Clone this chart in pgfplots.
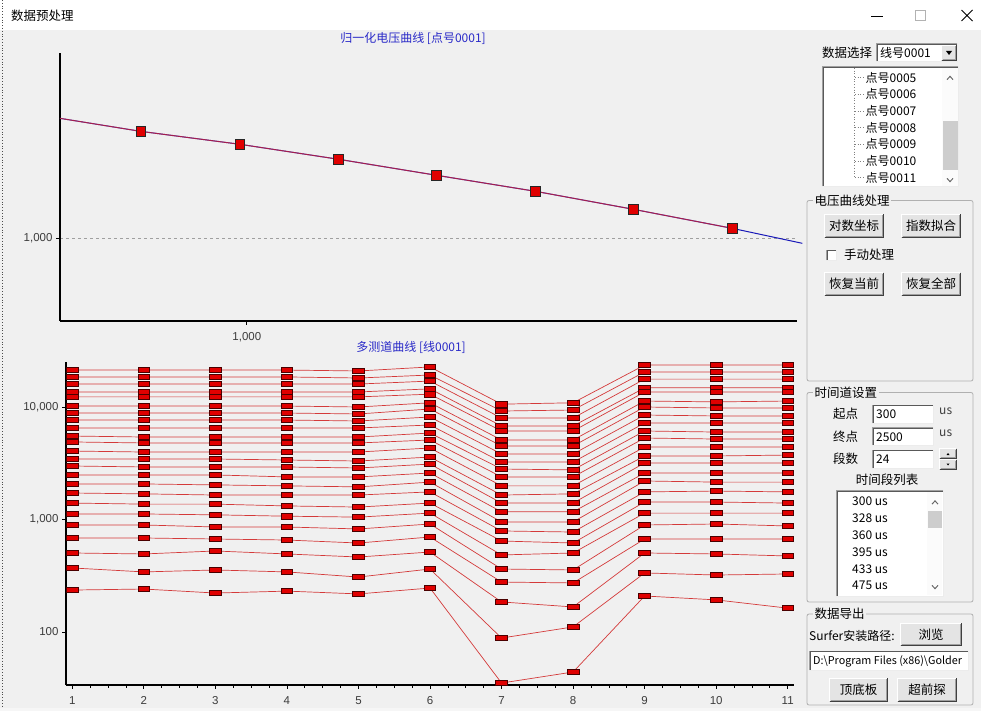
\documentclass[border=0pt]{standalone}
\usepackage{fontspec}
\setmainfont{Noto Sans CJK SC}
\newfontfamily\latinfont{Liberation Sans}
\usepackage{pgfplots}
\pgfplotsset{compat=1.18}
\definecolor{bg}{HTML}{F0F0F0}
\definecolor{titleblue}{HTML}{2A2AC8}
\definecolor{curvered}{HTML}{D43A3A}
\definecolor{markred}{HTML}{E00000}
\definecolor{markedge}{HTML}{4A0000}
\definecolor{fitblue}{HTML}{1818B8}
\definecolor{fitred}{HTML}{E02020}
\definecolor{ticktext}{HTML}{3C3C3C}
\definecolor{grpline}{HTML}{B0B0B0}
\definecolor{btnfill}{HTML}{E4E4E4}
\definecolor{btndark}{HTML}{404040}
\definecolor{btnmid}{HTML}{A0A0A0}
\definecolor{thumb}{HTML}{CDCDCD}

\newcommand\ui{\fontsize{12.5}{14}\selectfont}
\newcommand\uis{\fontsize{12}{14}\selectfont}

\newcommand\uibtn[5]{%
  \fill[btnfill] (#1,#2) rectangle (#3,#4);
  \draw[white, line width=1pt] (#1+0.5,#4-1) -- (#1+0.5,#2+0.5) -- (#3-1,#2+0.5);
  \draw[btndark, line width=1pt] (#1+0.5,#4-0.5) -- (#3-0.5,#4-0.5) -- (#3-0.5,#2+0.5);
  \draw[btnmid, line width=0.8pt] (#1+1.5,#4-1.6) -- (#3-1.6,#4-1.6) -- (#3-1.6,#2+1.5);
  \node[inner sep=0pt] at ({(#1+#3)/2},{(#2+#4)/2}) {\ui #5};}
\newcommand\uibox[4]{%
  \fill[white] (#1,#2) rectangle (#3,#4);
  \draw[btnmid, line width=0.8pt] (#1+0.4,#4) -- (#1+0.4,#2+0.4) -- (#3,#2+0.4);
  \draw[black!65, line width=0.8pt] (#1+1.2,#4-1) -- (#1+1.2,#2+1.2) -- (#3-1,#2+1.2);
  \draw[white!85!gray, line width=0.8pt] (#1+0.4,#4-0.4) -- (#3-0.4,#4-0.4) -- (#3-0.4,#2+0.4);}
\newcommand\uigroup[5]{%
  \draw[grpline, line width=0.8pt, rounded corners=2pt] (#1,#2) rectangle (#3,#4);
  \node[anchor=west, fill=bg, inner xsep=1.5pt, inner ysep=0pt] at (#1+6,#2) {\ui #5};}
\newcommand\chevup[2]{\draw[gray!80!black, line width=1pt] (#1-3,#2+1.6) -- (#1,#2-1.6) -- (#1+3,#2+1.6);}
\newcommand\chevdown[2]{\draw[gray!80!black, line width=1pt] (#1-3,#2-1.6) -- (#1,#2+1.6) -- (#1+3,#2-1.6);}

\pgfdeclareplotmark{wrect}{%
  \pgfpathrectangle{\pgfpoint{-5.8pt}{-2.7pt}}{\pgfpoint{11.6pt}{5.4pt}}%
  \pgfusepathqfillstroke}
\pgfdeclareplotmark{bsq}{%
  \pgfpathrectangle{\pgfpoint{-4.8pt}{-4.8pt}}{\pgfpoint{9.6pt}{9.6pt}}%
  \pgfusepathqfillstroke}
\pgfplotsset{ch/.style={curvered, line width=0.7pt, mark=wrect,
  mark options={fill=markred, draw=markedge, line width=0.7pt, solid}}}

\begin{document}
\begin{tikzpicture}
\begin{scope}[x=1pt,y=-1pt]
% window
\fill[bg] (0,0) rectangle (981,711);
\fill[white] (0,0) rectangle (981,30);
\draw[black!70, dotted, line width=0.8pt] (2.5,0) -- (2.5,711);
\fill[white!93!gray] (0,707.5) rectangle (981,711);
\node[anchor=west, inner sep=0pt] at (11,15.5) {\ui 数据预处理};
\draw[black, line width=0.8pt] (871,16) -- (883,16);
\draw[black!30, line width=0.8pt] (915,10.5) rectangle (925,20.5);
\draw[black, line width=0.9pt] (961.5,10) -- (972.5,21) (961.5,21) -- (972.5,10);
% data selection
\node[anchor=west, inner sep=0pt] at (822,52.5) {\ui 数据选择};
\uibox{876}{43}{958}{62}
\node[anchor=west, inner sep=0pt] at (880,52.5) {\uis 线号0001};
\uibtn{941}{45}{957}{61}{}
\fill[black] (946,51) -- (952,51) -- (949,55) -- cycle;
% tree
\uibox{822}{66}{959}{187}
\fill[white!97!gray] (942,68) rectangle (958,186);
\fill[thumb] (942.5,121.5) rectangle (957.5,170);
\chevup{950}{78}
\chevdown{950}{180}
\draw[gray, dotted, line width=0.7pt] (854.5,68) -- (854.5,178);
\foreach \yy/\tt in {77.5/0005,94.2/0006,110.9/0007,127.6/0008,144.3/0009,161/0010,177.7/0011}{
  \draw[gray, dotted, line width=0.7pt] (855,\yy) -- (864,\yy);
  \node[anchor=west, inner sep=0pt] at (865.5,\yy) {\uis 点号\tt};
}
% voltage curve group
\uigroup{807}{200.5}{973}{381}{电压曲线处理}
\uibtn{824}{214}{884}{238}{对数坐标}
\uibtn{901}{214}{961}{238}{指数拟合}
\uibox{826}{249.5}{837}{260.5}
\node[anchor=west, inner sep=0pt] at (844,255) {\ui 手动处理};
\uibtn{824}{272}{884}{296}{恢复当前}
\uibtn{901}{272}{961}{296}{恢复全部}
% time channel group
\uigroup{807}{392.5}{973}{602}{时间道设置}
\node[anchor=west, inner sep=0pt] at (833,414) {\ui 起点};
\uibox{872}{404.5}{934}{423.5}
\node[anchor=west, inner sep=0pt] at (876,414) {\uis 300};
\node[anchor=west, inner sep=0pt, text=black!75] at (939,411) {\uis us};
\node[anchor=west, inner sep=0pt] at (833,436.5) {\ui 终点};
\uibox{872}{427}{934}{446}
\node[anchor=west, inner sep=0pt] at (876,437) {\uis 2500};
\node[anchor=west, inner sep=0pt, text=black!75] at (939,433.5) {\uis us};
\node[anchor=west, inner sep=0pt] at (833,458.5) {\ui 段数};
\uibox{872}{449.5}{934}{468.5}
\node[anchor=west, inner sep=0pt] at (876,459.5) {\uis 24};
\uibtn{939}{448}{957}{459}{}
\uibtn{939}{459}{957}{470}{}
\fill[black] (946.5,455) -- (949.5,455) -- (948,453) -- cycle;
\fill[black] (946.5,463.5) -- (949.5,463.5) -- (948,465.5) -- cycle;
\node[inner sep=0pt] at (887,479.5) {\ui 时间段列表};
\uibox{836}{490}{944}{597}
\fill[white!97!gray] (927,492) rectangle (942,595);
\fill[thumb] (927.5,511) rectangle (941.5,528);
\chevup{935}{502.5}
\chevdown{935}{587}
\foreach \yy/\tt in {501.5/300,518/328,535/360,552/395,569/433,585.5/475}{
  \node[anchor=west, inner sep=0pt] at (852,\yy) {\uis \tt{} us};
}
% export group
\uigroup{807}{614}{973}{705}{数据导出}
\node[anchor=west, inner sep=0pt] at (809,636) {\uis Surfer安装路径:};
\uibtn{900}{622.5}{962}{646}{浏览}
\uibox{809}{650.5}{969}{670.5}
\node[anchor=west, inner sep=0pt] at (813,661) {\fontsize{10.8}{13}\selectfont D:\textbackslash Program Files (x86)\textbackslash Golder};
\uibtn{829}{677.5}{888}{701.5}{顶底板}
\uibtn{897}{677.5}{957}{701.5}{超前探}
\end{scope}

% ---------- top chart: normalized voltage curve (log-log) ----------
\begin{axis}[
  at={(60pt,-321pt)}, anchor=south west,
  scale only axis, width=737pt, height=268pt,
  xmode=log, ymode=log,
  xmin=300, xmax=34700, ymin=587, ymax=3298,
  axis x line*=bottom, axis y line*=left,
  axis line style={line width=2pt, black},
  xtick={1000}, xticklabels={{1,000},{}},
  ytick={1000}, yticklabels={{1,000},{}},
  xminorticks=false, yminorticks=false,
  tick align=outside, major tick length=4pt,
  tick style={black, line width=0.7pt},
  ymajorgrids, grid style={dashed, gray!75, line width=0.7pt},
  ticklabel style={font=\latinfont\fontsize{11.5}{13}\selectfont, text=ticktext},
  xticklabel style={yshift=-4pt},
  /pgf/number format/assume math mode=true,
  title={归一化电压曲线 [点号0001]},
  title style={at={(0.479,1)}, anchor=center, yshift=9pt, inner sep=0pt,
    text=titleblue, font=\fontsize{12}{14}\selectfont},
  clip=false,
]
% exponential fit (blue), extended past the last channel
\addplot[fitblue, line width=1pt] coordinates {(300,2165) (505,1991) (956,1832) (1808,1663) (3399,1500)
               (6431,1353) (12085,1205) (22860,1066) (35900,968)};
% measured normalized voltage (red)
\addplot[fitred, line width=1pt, opacity=0.7, mark=bsq, mark indices={2,3,4,5,6,7,8},
  mark options={fill=markred, draw=black!85, line width=0.8pt, opacity=1}]
  coordinates {(300,2165) (505,1991) (956,1832) (1808,1663) (3399,1500)
               (6431,1353) (12085,1205) (22860,1066)};
\end{axis}

% ---------- bottom chart: multi-channel curves ----------
\begin{axis}[
  at={(66pt,-685pt)}, anchor=south west,
  scale only axis, width=728pt, height=323pt,
  ymode=log,
  xmin=0.912, xmax=11.088, ymin=33.8, ymax=25119,
  axis x line*=bottom, axis y line*=left,
  axis line style={line width=2pt, black},
  xtick={1,2,3,4,5,6,7,8,9,10,11}, minor x tick num=3,
  ytick={100,1000,10000}, yticklabels={100,{1,000},{10,000}},
  yminorticks=false,
  tick align=outside, major tick length=4pt, minor tick length=3pt,
  tick style={black, line width=0.7pt},
  ticklabel style={font=\latinfont\fontsize{11.5}{13}\selectfont, text=ticktext},
  xticklabel style={yshift=-4pt},
  /pgf/number format/assume math mode=true,
  title={多测道曲线 [线0001]},
  title style={at={(0.474,1)}, anchor=center, yshift=8.5pt, inner sep=0pt,
    text=titleblue, font=\fontsize{12}{14}\selectfont},
  clip=false,
]
\addplot[ch] coordinates {(1,21300)(2,21300)(3,21300)(4,21300)(5,20900)(6,22700)(7,10600)(8,10900)(9,23600)(10,23600)(11,23600)};
\addplot[ch] coordinates {(1,18500)(2,18500)(3,18500)(4,18500)(5,18100)(6,19250)(7,9210)(8,9400)(9,20500)(10,20500)(11,20500)};
\addplot[ch] coordinates {(1,16000)(2,16000)(3,16000)(4,16000)(5,16000)(6,17000)(7,7980)(8,7980)(9,17700)(10,17700)(11,17700)};
\addplot[ch] coordinates {(1,13600)(2,13600)(3,13600)(4,13600)(5,13600)(6,14500)(7,6780)(8,6780)(9,14800)(10,14800)(11,14800)};
\addplot[ch] coordinates {(1,12300)(2,12300)(3,12300)(4,12300)(5,12300)(6,13000)(7,6120)(8,6120)(9,13600)(10,13600)(11,13600)};
\addplot[ch] coordinates {(1,10200)(2,10200)(3,10200)(4,10200)(5,10000)(6,10900)(7,5090)(8,5090)(9,11300)(10,11100)(11,11300)};
\addplot[ch] coordinates {(1,8840)(2,8840)(3,8840)(4,8840)(5,8670)(6,9600)(7,4500)(8,4500)(9,10000)(10,9800)(11,9800)};
\addplot[ch] coordinates {(1,7660)(2,7660)(3,7660)(4,7660)(5,7510)(6,8150)(7,3820)(8,3820)(9,8490)(10,8320)(11,8320)};
\addplot[ch] coordinates {(1,6510)(2,6510)(3,6510)(4,6510)(5,6510)(6,6920)(7,3240)(8,3240)(9,7210)(10,7210)(11,7210)};
\addplot[ch] coordinates {(1,5520)(2,5410)(3,5410)(4,5410)(5,5410)(6,5870)(7,2810)(8,2760)(9,6120)(10,5990)(11,5990)};
\addplot[ch] coordinates {(1,4890)(2,4790)(3,4790)(4,4790)(5,4790)(6,5090)(7,2390)(8,2390)(9,5300)(10,5190)(11,5190)};
\addplot[ch] coordinates {(1,4060)(2,3980)(3,3980)(4,3980)(5,3980)(6,4320)(7,1990)(8,1990)(9,4410)(10,4410)(11,4410)};
\addplot[ch] coordinates {(1,3450)(2,3450)(3,3450)(4,3380)(5,3310)(6,3590)(7,1650)(8,1690)(9,3670)(10,3670)(11,3740)};
\addplot[ch] coordinates {(1,2990)(2,2930)(3,2930)(4,2930)(5,2870)(6,3110)(7,1400)(8,1400)(9,3180)(10,3180)(11,3180)};
\addplot[ch] coordinates {(1,2490)(2,2490)(3,2490)(4,2390)(5,2390)(6,2590)(7,1170)(8,1170)(9,2590)(10,2590)(11,2590)};
\addplot[ch] coordinates {(1,2070)(2,2070)(3,2030)(4,1990)(5,1950)(6,2150)(7,951)(8,951)(9,2200)(10,2150)(11,2150)};
\addplot[ch] coordinates {(1,1720)(2,1690)(3,1650)(4,1650)(5,1650)(6,1760)(7,791)(8,774)(9,1760)(10,1790)(11,1760)};
\addplot[ch] coordinates {(1,1400)(2,1370)(3,1370)(4,1320)(5,1290)(6,1400)(7,644)(8,618)(9,1430)(10,1430)(11,1400)};
\addplot[ch] coordinates {(1,1120)(2,1120)(3,1100)(4,1070)(5,1050)(6,1140)(7,484)(8,504)(9,1140)(10,1140)(11,1140)};
\addplot[ch] coordinates {(1,894)(2,894)(3,858)(4,858)(5,824)(6,912)(7,363)(8,356)(9,894)(10,912)(11,876)};
\addplot[ch] coordinates {(1,685)(2,685)(3,671)(4,657)(5,618)(6,699)(7,278)(8,273)(9,671)(10,671)(11,671)};
\addplot[ch] coordinates {(1,504)(2,494)(3,525)(4,494)(5,464)(6,514)(7,185)(8,167)(9,504)(10,494)(11,474)};
\addplot[ch] coordinates {(1,371)(2,342)(3,356)(4,342)(5,308)(6,363)(7,88.4)(8,111)(9,335)(10,321)(11,328)};
\addplot[ch] coordinates {(1,236)(2,241)(3,222)(4,231)(5,218)(6,246)(7,35.2)(8,44.1)(9,209)(10,193)(11,163)};
\end{axis}
\pgfresetboundingbox
\useasboundingbox (0,0) rectangle (981pt,-711pt);
\end{tikzpicture}
\end{document}
